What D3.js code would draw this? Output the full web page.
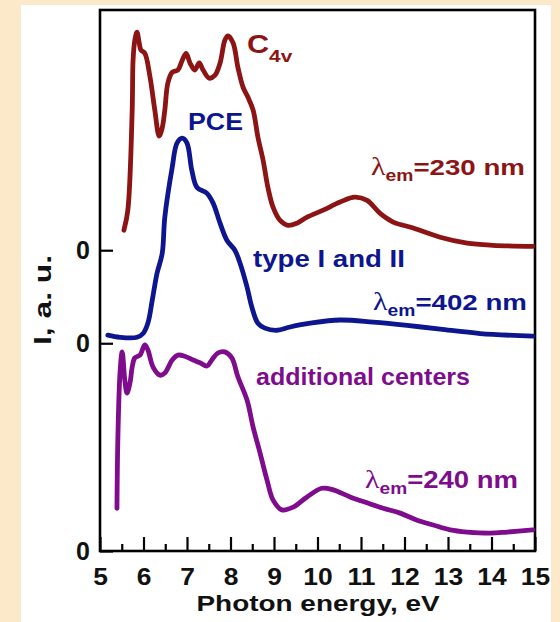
<!DOCTYPE html>
<html>
<head>
<meta charset="utf-8">
<script src="https://cdn.jsdelivr.net/npm/d3@7"></script>
<style>
  html, body { margin: 0; padding: 0; background: #fce9c9; }
  svg { display: block; }
</style>
</head>
<body>
<svg id="chart" width="560" height="622"></svg>
<script>
// Photoluminescence excitation spectra, three emission bands stacked with offsets.
const xTicks = [5, 6, 7, 8, 9, 10, 11, 12, 13, 14, 15];
const xMinorTicks = [5.5, 6.5, 7.5, 8.5, 9.5, 10.5, 11.5, 12.5, 13.5, 14.5];

// λem = 230 nm (C4v centers)
const c4vEnergy = [5.55,5.64,5.74,5.76,5.80,5.85,5.90,5.94,6.03,6.15,6.26,6.36,6.43,6.49,6.56,6.66,6.79,6.89,6.98,7.07,7.18,7.28,7.37,7.51,7.64,7.76,7.87,7.94,8.06,8.17,8.29,8.40,8.52,8.63,8.75,8.86,8.98,9.14,9.32,9.53,9.76,10.13,10.52,10.86,11.14,11.44,11.74,12.20,12.82,13.44,14.03,14.95];
const c4vIntensity = [3.7,7.4,25.9,35.1,38.8,40.3,38.4,37.0,36.4,32.0,25.9,21.1,22.6,25.9,30.9,32.9,33.3,35.1,36.4,34.6,33.3,34.6,33.3,31.8,32.3,34.6,38.8,39.6,38.3,33.8,30.1,28.3,25.9,20.9,16.6,11.6,7.9,5.5,4.6,5.0,6.1,7.4,8.9,9.8,9.2,6.8,5.2,4.1,2.4,1.3,0.9,0.7];

// λem = 402 nm (PCE, type I and II)
const pceEnergy = [5.18,5.46,5.85,5.99,6.10,6.20,6.31,6.43,6.49,6.66,6.77,6.89,7.00,7.11,7.23,7.46,7.60,7.76,7.92,8.10,8.22,8.38,8.49,8.63,8.79,9.07,9.37,9.83,10.52,11.28,12.06,12.82,13.74,14.95];
const pceIntensity = [1.5,1.1,1.1,1.8,3.7,7.9,12.9,16.6,23.3,32.5,37.0,37.9,37.0,32.0,28.8,27.7,25.9,22.2,19.0,17.2,14.8,10.4,6.7,3.7,2.8,2.4,3.0,3.7,4.3,3.9,3.3,2.6,1.8,1.3];

// λem = 240 nm (additional centers)
const addEnergy = [5.39,5.41,5.46,5.51,5.57,5.62,5.69,5.74,5.80,5.92,6.03,6.10,6.22,6.38,6.49,6.66,6.79,6.95,7.14,7.30,7.46,7.57,7.71,7.87,8.03,8.17,8.38,8.52,8.68,8.84,8.98,9.18,9.44,9.76,10.10,10.36,10.75,11.14,11.51,11.90,12.29,12.66,13.05,13.44,13.97,14.36,14.95];
const addIntensity = [7.9,20.5,32.9,36.8,31.6,29.2,31.1,34.0,35.7,36.2,38.1,37.2,34.0,32.5,32.9,35.3,36.2,36.0,35.3,34.8,34.2,35.3,36.6,36.8,35.7,32.2,27.9,22.9,18.1,13.1,9.4,7.6,8.1,10.0,11.6,11.3,10.0,8.9,7.9,7.0,5.7,4.8,3.9,3.5,3.3,3.5,3.9];

// vertical offset (zero level) of each spectrum
const zeroLevels = [55.6, 38.4, 0];
const seriesColors = ["#8c1414", "#0d168e", "#7e0c8c"];

const svg = d3.select("#chart");
const W = 560, H = 622;
const plot = { left: 100, right: 535, top: 10, bottom: 551 };
const FONT = "'Liberation Sans', Arial, Helvetica, sans-serif";

// white panel
svg.append("rect").attr("x", 21).attr("y", 5).attr("width", 530).attr("height", H - 5).attr("fill", "#ffffff");

const x = d3.scaleLinear().domain([5, 15]).range([plot.left, plot.right]);
const y = d3.scaleLinear().domain([0, 100]).range([plot.bottom, plot.top]);

// x axis, ticks pointing inward
const xAxis = svg.append("g")
  .attr("transform", `translate(0,${plot.bottom})`)
  .call(d3.axisBottom(x).tickValues(xTicks).tickSize(-14).tickPadding(10).tickFormat(d3.format("d")));
xAxis.select(".domain").remove();
xAxis.selectAll(".tick line").attr("stroke", "#000").attr("stroke-width", 2.2);
xAxis.selectAll(".tick text")
  .attr("font-family", FONT).attr("font-weight", "bold").attr("font-size", 24)
  .attr("fill", "#111").attr("dy", null).attr("y", 34)
  .attr("transform", "scale(1.1,1)");

const xMinor = svg.append("g")
  .attr("transform", `translate(0,${plot.bottom})`)
  .call(d3.axisBottom(x).tickValues(xMinorTicks).tickSize(-7).tickFormat(""));
xMinor.select(".domain").remove();
xMinor.selectAll(".tick line").attr("stroke", "#000").attr("stroke-width", 2.2);

// y axis: one zero tick per spectrum
const yAxis = svg.append("g")
  .attr("transform", `translate(${plot.left},0)`)
  .call(d3.axisLeft(y).tickValues(zeroLevels).tickSize(-13).tickPadding(10).tickFormat(() => "0"));
yAxis.select(".domain").remove();
yAxis.selectAll(".tick line").attr("stroke", "#000").attr("stroke-width", 2.2);
yAxis.selectAll(".tick text")
  .attr("font-family", FONT).attr("font-weight", "bold").attr("font-size", 25)
  .attr("fill", "#111").attr("dy", "0.34em");

// frame
svg.append("rect")
  .attr("x", plot.left).attr("y", plot.top)
  .attr("width", plot.right - plot.left).attr("height", plot.bottom - plot.top)
  .attr("fill", "none").attr("stroke", "#000").attr("stroke-width", 2.6);

// spectra
const series = [
  { e: c4vEnergy, v: c4vIntensity },
  { e: pceEnergy, v: pceIntensity },
  { e: addEnergy, v: addIntensity }
];
series.forEach((s, i) => {
  const pts = s.e.map((e, k) => [e, s.v[k] + zeroLevels[i]]);
  const line = d3.line()
    .x(d => x(d[0])).y(d => y(d[1]))
    .curve(d3.curveCatmullRom.alpha(0.5));
  svg.append("path")
    .attr("d", line(pts))
    .attr("fill", "none")
    .attr("stroke", seriesColors[i])
    .attr("stroke-width", 4.8)
    .attr("stroke-linejoin", "round")
    .attr("stroke-linecap", "round");
});

// stretched bold label built from parts: [text, size, dy, serif]
function label(parent, px, py, width, parts, color, anchor) {
  const g = parent.append("g").attr("transform", `translate(${px},${py})`);
  const t = g.append("text").attr("fill", color)
    .attr("font-family", FONT).attr("font-weight", "bold")
    .attr("text-anchor", anchor || "start");
  parts.forEach(p => {
    const ts = t.append("tspan").text(p.t).attr("font-size", p.s);
    if (p.dy) ts.attr("dy", p.dy);
    if (p.serif) ts.attr("font-family", "'Liberation Serif', 'Times New Roman', serif").attr("font-weight", "normal");
  });
  const w = t.node().getBBox().width;
  t.attr("transform", `scale(${width / w},1)`);
  return g;
}

function lambdaLabel(px, py, width, value, color) {
  return label(svg, px, py, width, [
    { t: "λ", s: 25, serif: true },
    { t: "em", s: 16, dy: 6 },
    { t: "=" + value + " nm", s: 23, dy: -6 }
  ], color);
}

label(svg, 247, 53, 46, [{ t: "C", s: 25 }, { t: "4v", s: 17, dy: 9 }], seriesColors[0]);
lambdaLabel(371, 175, 154, "230", seriesColors[0]);
label(svg, 188, 130, 55, [{ t: "PCE", s: 23 }], seriesColors[1]);
label(svg, 253, 267, 152, [{ t: "type I and II", s: 23 }], seriesColors[1]);
lambdaLabel(373, 310, 154, "402", seriesColors[1]);
label(svg, 256, 385, 214, [{ t: "additional centers", s: 23 }], seriesColors[2]);
lambdaLabel(365, 488, 153, "240", seriesColors[2]);

// axis titles
label(svg, 318, 611, 244, [{ t: "Photon energy, eV", s: 23 }], "#111", "middle");
const yt = svg.append("g").attr("transform", "translate(51,300) rotate(-90)");
label(yt, 0, 0, 90, [{ t: "I, a. u.", s: 24 }], "#111", "middle");
</script>
</body>
</html>
